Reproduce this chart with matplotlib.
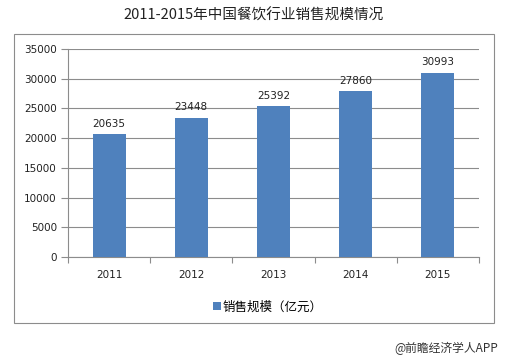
import matplotlib
matplotlib.use('Agg')
import matplotlib.pyplot as plt
from matplotlib.patches import Rectangle

plt.rcParams['font.family'] = ['Noto Sans CJK SC', 'DejaVu Sans']

years = ['2011', '2012', '2013', '2014', '2015']
sales = [20635, 23448, 25392, 27860, 30993]
y_ticks = [0, 5000, 10000, 15000, 20000, 25000, 30000, 35000]

W, H = 508, 362
NUM_FONT = 'DejaVu Sans'
fig = plt.figure(figsize=(W / 100, H / 100), dpi=100)
ax = fig.add_axes([68 / W, 1 - 257 / H, (479 - 68) / W, (257 - 49) / H])

# outer chart frame
fig.patches.append(Rectangle((14 / W, 1 - 323 / H), (494 - 14) / W, (323 - 34) / H,
                             transform=fig.transFigure, fill=False,
                             edgecolor='#8c8c8c', linewidth=0.8))

x = range(len(years))
bars = ax.bar(x, sales, width=0.4, color='#4f81bd', zorder=3)
for xi, v in zip(x, sales):
    ax.text(xi, v + 900, str(v), ha='center', va='bottom', fontsize=7.5,
            color='#222222', family=NUM_FONT)

ax.set_xlim(-0.5, len(years) - 0.5)
ax.set_ylim(0, 35000)
ax.set_yticks(y_ticks)
ax.set_yticklabels([str(t) for t in y_ticks], fontsize=7.5, color='#222222', family=NUM_FONT)
ax.set_xticks(list(x))
ax.set_xticklabels(years, fontsize=7.5, color='#222222', family=NUM_FONT)
ax.tick_params(axis='x', length=0, pad=9)
ax.tick_params(axis='y', length=5, color='#8c8c8c', width=0.8, pad=3)
# category boundary ticks
ax.set_xticks([i - 0.5 for i in range(len(years) + 1)], minor=True)
ax.tick_params(axis='x', which='minor', length=4, color='#8c8c8c', width=0.8)

ax.grid(axis='y', color='#8c8c8c', linewidth=0.8, zorder=0)
for s in ['top', 'right']:
    ax.spines[s].set_visible(False)
for s in ['left', 'bottom']:
    ax.spines[s].set_color('#8c8c8c')
    ax.spines[s].set_linewidth(0.8)

fig.text(254 / W, 1 - 16 / H, '2011-2015年中国餐饮行业销售规模情况',
         ha='center', va='center', fontsize=10.5, color='#222222')

leg = fig.legend([bars], ['销售规模（亿元）'], loc='center', bbox_to_anchor=(268 / W, 1 - 307 / H),
                 frameon=False, fontsize=9, handlelength=0.6, handleheight=0.6,
                 handletextpad=0.2)

fig.text(498 / W, 1 - 348 / H, '@前瞻经济学人APP', ha='right', va='center',
         fontsize=8.5, color='#333333')

fig.savefig('out.png', dpi=100)
